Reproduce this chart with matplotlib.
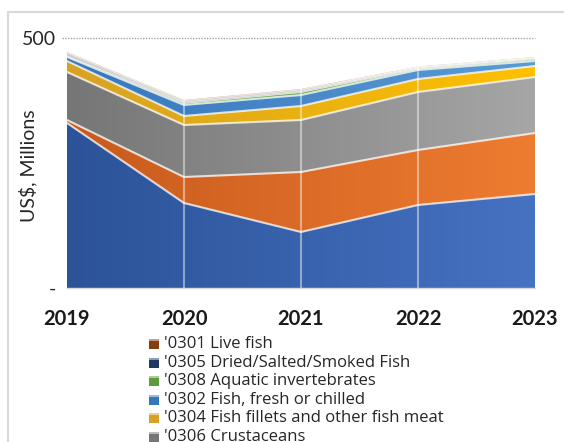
import numpy as np
import matplotlib
matplotlib.use("Agg")
import matplotlib.pyplot as plt
from matplotlib.colors import LinearSegmentedColormap
from matplotlib.patches import Rectangle

plt.rcParams['font.family'] = ['Lato', 'DejaVu Sans']

years = [2019, 2020, 2021, 2022, 2023]

# Import values by HS code, US$ millions (stack order: bottom to top)
frozen_fish_0303 = [330, 170, 112, 166, 188]
molluscs_0307 = [6, 52, 120, 110, 122]
crustaceans_0306 = [96, 104, 104, 116, 112]
fillets_0304 = [22, 18, 28, 26, 22]
fresh_fish_0302 = [8, 22, 22, 18, 10]
invertebrates_0308 = [3, 4, 6, 3, 4]
dried_fish_0305 = [4, 3, 3, 2, 2]
live_fish_0301 = [3, 3, 3, 2, 2]

series = [frozen_fish_0303, molluscs_0307, crustaceans_0306, fillets_0304,
          fresh_fish_0302, invertebrates_0308, dried_fish_0305, live_fish_0301]
labels = ["'0303 Fish, frozen", "'0307 Molluscs", "'0306 Crustaceans",
          "'0304 Fish fillets and other fish meat", "'0302 Fish, fresh or chilled",
          "'0308 Aquatic invertebrates", "'0305 Dried/Salted/Smoked Fish",
          "'0301 Live fish"]
# (left shade, right shade) for a horizontal gradient fill
colors = [("#2C5398", "#4672C2"), ("#C75A1E", "#EE7C30"), ("#767676", "#A6A6A6"),
          ("#D6A224", "#FFC000"), ("#3676BD", "#5B9BD5"), ("#5F9A3B", "#70AD47"),
          ("#1F3864", "#2B4A80"), ("#843C0C", "#9E480E")]

W, H = 564, 442
fig = plt.figure(figsize=(W / 100, H / 100), dpi=100)

# chart frame
fig.patches.append(Rectangle((8 / W, -0.1), 1.2, 1.1 - 12 / H, transform=fig.transFigure,
                             fill=False, edgecolor="#D9D9D9", linewidth=1.5))

ax = fig.add_axes([67 / W, 1 - 288 / H, (535 - 67) / W, (288 - 38) / H])
ax.set_xlim(years[0], years[-1])
ax.set_ylim(0, 500)

x = np.array(years, dtype=float)
base = np.zeros(len(years))
grad = np.linspace(0, 1, 256).reshape(1, -1)
for vals, (c0, c1) in zip(series, colors):
    top = base + np.array(vals, dtype=float)
    coll = ax.fill_between(x, base, top, facecolor=c1, edgecolor="none", zorder=1)
    cmap = LinearSegmentedColormap.from_list("g", [c0, c1])
    im = ax.imshow(grad, extent=[x[0], x[-1], 0, 500], aspect="auto", cmap=cmap,
                   zorder=2, interpolation="bilinear")
    im.set_clip_path(coll.get_paths()[0], ax.transData)
    ax.plot(x, top, color="white", alpha=0.75, linewidth=1.5, zorder=4)
    base = top

# vertical lines at each year
for yr in years[1:-1]:
    ax.axvline(yr, color="white", alpha=0.45, linewidth=1.5, zorder=3)

ax.axhline(500, xmin=-0.01, color="#A6A6A6", linestyle=(0, (1, 1)), linewidth=1.0,
           clip_on=False, zorder=5)

for side in ["left", "right", "top"]:
    ax.spines[side].set_visible(False)
ax.spines["bottom"].set_color("#D9D9D9")
ax.spines["bottom"].set_linewidth(1.0)
ax.spines["bottom"].set_zorder(6)

ax.set_yticks([0, 500], ["-", "500"])
ax.set_xticks(years, [str(y) for y in years])
ax.tick_params(axis="y", length=0, pad=8, labelsize=14, labelcolor="#262626")
ax.tick_params(axis="x", length=0, pad=15, labelsize=14.5, labelcolor="#1A1A1A")
for t in ax.get_xticklabels():
    t.set_fontweight("bold")

fig.text(28 / W, 1 - 166 / H, "US$, Millions", rotation=90, ha="center", va="center",
         fontsize=14, color="#262626")

# legend, top of stack first
row0, step = 344, 18.6
for i, idx in enumerate(range(len(series) - 1, -1, -1)):
    yc = row0 + i * step
    c0, c1 = colors[idx]
    fig.patches.append(Rectangle((149 / W, 1 - (yc + 5) / H), 10 / W, 10 / H,
                                 transform=fig.transFigure, facecolor=c0,
                                 edgecolor="none"))
    fig.patches.append(Rectangle((149 / W, 1 - (yc - 3) / H), 10 / W, 2 / H,
                                 transform=fig.transFigure, facecolor="white",
                                 alpha=0.5, edgecolor="none"))
    fig.text(164 / W, 1 - yc / H, labels[idx], ha="left", va="center",
             fontsize=12, color="#262626", family=["Open Sans", "DejaVu Sans"])

fig.savefig("out.png", dpi=100)
